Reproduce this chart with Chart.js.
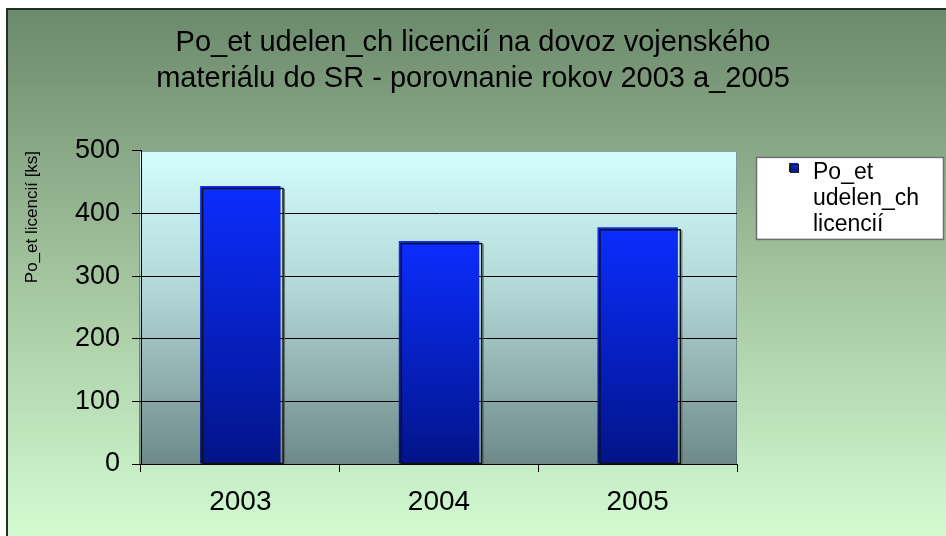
<!DOCTYPE html>
<html>
<head>
<meta charset="utf-8">
<script src="https://cdn.jsdelivr.net/npm/chart.js@4"></script>
<style>
  html, body { margin: 0; padding: 0; background: #fff; }
  #wrap { width: 946px; height: 536px; }
</style>
</head>
<body>
<div id="wrap"><canvas id="licChart" width="946" height="536"></canvas></div>
<script>
//data arrays
const years = ['2003', '2004', '2005'];
const licences = [444, 356, 378];
const yTicks = [0, 100, 200, 300, 400, 500];
const seriesLabel = 'Po_et udelen_ch licencií';
const titleLines = ['Po_et udelen_ch licencií na dovoz vojenského', 'materiálu do SR - porovnanie rokov 2003 a_2005'];
const yTitle = 'Po_et licencií [ks]';

const font = '"Liberation Sans", Arial, sans-serif';

//gradient for one bar, from its top down to the zero line
function barGradient(ctx, top, bottom) {
    if (!isFinite(top) || !isFinite(bottom) || top === bottom) return '#0b2dff';
    const g = ctx.createLinearGradient(0, top, 0, bottom);
    g.addColorStop(0, '#0b2dff');
    g.addColorStop(1, '#021488');
    return g;
}

//frame + plot backgrounds
const backdrop = {
    id: 'backdrop',
    beforeDraw(chart) {
        const {ctx, chartArea: a, width, height} = chart;
        ctx.save();
        ctx.fillStyle = '#fff';
        ctx.fillRect(0, 0, width, height);
        let g = ctx.createLinearGradient(0, 8, 0, height);
        g.addColorStop(0, '#6b896c');
        g.addColorStop(0.5, '#a2c39d');
        g.addColorStop(1, '#d2fbd2');
        ctx.fillStyle = g;
        ctx.fillRect(6, 8, width - 6, height - 8);
        ctx.strokeStyle = '#223322';
        ctx.lineWidth = 2;
        ctx.beginPath();
        ctx.moveTo(7, height);
        ctx.lineTo(7, 9);
        ctx.lineTo(width, 9);
        ctx.stroke();

        g = ctx.createLinearGradient(0, a.top, 0, a.bottom);
        g.addColorStop(0, '#d3fdfd');
        g.addColorStop(0.45, '#b2d6d6');
        g.addColorStop(1, '#6f8989');
        ctx.fillStyle = g;
        ctx.fillRect(a.left - 2, a.top, a.right - a.left + 2, a.bottom - a.top);
        ctx.strokeStyle = 'rgba(90,110,110,0.7)';
        ctx.lineWidth = 1;
        ctx.strokeRect(a.left - 1.5, a.top + 0.5, a.right - a.left + 1, a.bottom - a.top);
        ctx.restore();
    }
};

//offset outline that gives the bars their 3D look
const barEdges = {
    id: 'barEdges',
    afterDatasetsDraw(chart) {
        const {ctx} = chart;
        ctx.save();
        chart.getDatasetMeta(0).data.forEach((bar) => {
            const left = bar.x - bar.width / 2;
            const right = bar.x + bar.width / 2;
            ctx.strokeStyle = '#111';
            ctx.lineWidth = 1.5;
            ctx.strokeRect(left + 2.5, bar.y + 2.5, bar.width, bar.base - bar.y - 2.5);
            ctx.strokeStyle = 'rgba(80,90,90,0.8)';
            ctx.lineWidth = 1;
            ctx.beginPath();
            ctx.moveTo(right + 4, bar.y + 3);
            ctx.lineTo(right + 4, bar.base);
            ctx.stroke();
        });
        ctx.restore();
    }
};

//boxed legend at the right, label wrapped onto lines
const sideLegend = {
    id: 'sideLegend',
    afterDraw(chart) {
        const {ctx, chartArea: a} = chart;
        const x = a.right + 19, y = a.top + 6, w = 187, h = 82;
        ctx.save();
        ctx.fillStyle = '#fff';
        ctx.fillRect(x, y, w, h);
        ctx.strokeStyle = '#6e6e6e';
        ctx.lineWidth = 1.5;
        ctx.strokeRect(x + 0.5, y + 0.5, w, h);

        const mx = x + 33, my = y + 6;
        ctx.fillStyle = barGradient(ctx, my, my + 9);
        ctx.fillRect(mx, my, 9, 9);
        ctx.strokeStyle = '#111';
        ctx.lineWidth = 1;
        ctx.strokeRect(mx + 1.5, my + 1.5, 8, 8);

        ctx.fillStyle = '#000';
        ctx.font = '23px ' + font;
        ctx.textBaseline = 'alphabetic';
        seriesLabel.split(' ').forEach((line, i) => {
            ctx.fillText(line, x + 57, y + 22 + i * 26);
        });
        ctx.restore();
    }
};

const data = {
    labels: years,
    datasets: [{
        label: seriesLabel,
        data: licences,
        backgroundColor: (c) => {
            const s = c.chart.scales.y;
            if (!s || c.raw === undefined) return '#0b2dff';
            return barGradient(c.chart.ctx, s.getPixelForValue(c.raw), s.getPixelForValue(0));
        },
        borderWidth: 0,
        barPercentage: 0.405,
        categoryPercentage: 1
    }]
};

const config = {
    type: 'bar',
    data: data,
    options: {
        responsive: false,
        animation: false,
        layout: { padding: 0 },
        plugins: {
            legend: { display: false },
            tooltip: { enabled: false },
            title: {
                display: true,
                text: titleLines,
                color: '#000',
                font: { family: font, size: 29, weight: 'normal', lineHeight: 1.24 },
                padding: { top: 25, bottom: 54 }
            }
        },
        scales: {
            x: {
                grid: { offset: true, drawOnChartArea: false, tickLength: 8, tickColor: '#000' },
                border: { color: '#000', width: 1 },
                ticks: { color: '#000', font: { family: font, size: 28 }, padding: 13 },
                afterFit: (s) => { s.height = 72; }
            },
            y: {
                min: 0,
                max: 500,
                afterBuildTicks: (s) => { s.ticks = yTicks.map((v) => ({value: v})); },
                grid: {
                    color: (c) => (c.tick && c.tick.value === 500 ? 'rgba(0,0,0,0)' : '#000'),
                    tickColor: '#000',
                    tickLength: 9
                },
                border: { color: '#000', width: 1 },
                ticks: { color: '#000', font: { family: font, size: 27 }, padding: 12 },
                title: {
                    display: true,
                    text: yTitle,
                    align: 'end',
                    color: '#000',
                    font: { family: font, size: 17 },
                    padding: { top: 22, bottom: 0 }
                },
                afterFit: (s) => { s.width = 141; }
            },
            side: {
                type: 'linear',
                position: 'right',
                grid: { display: false },
                border: { display: false },
                ticks: { display: false },
                afterFit: (s) => { s.width = 209; }
            }
        }
    },
    plugins: [backdrop, barEdges, sideLegend]
};

new Chart(document.getElementById('licChart'), config);
</script>
</body>
</html>
